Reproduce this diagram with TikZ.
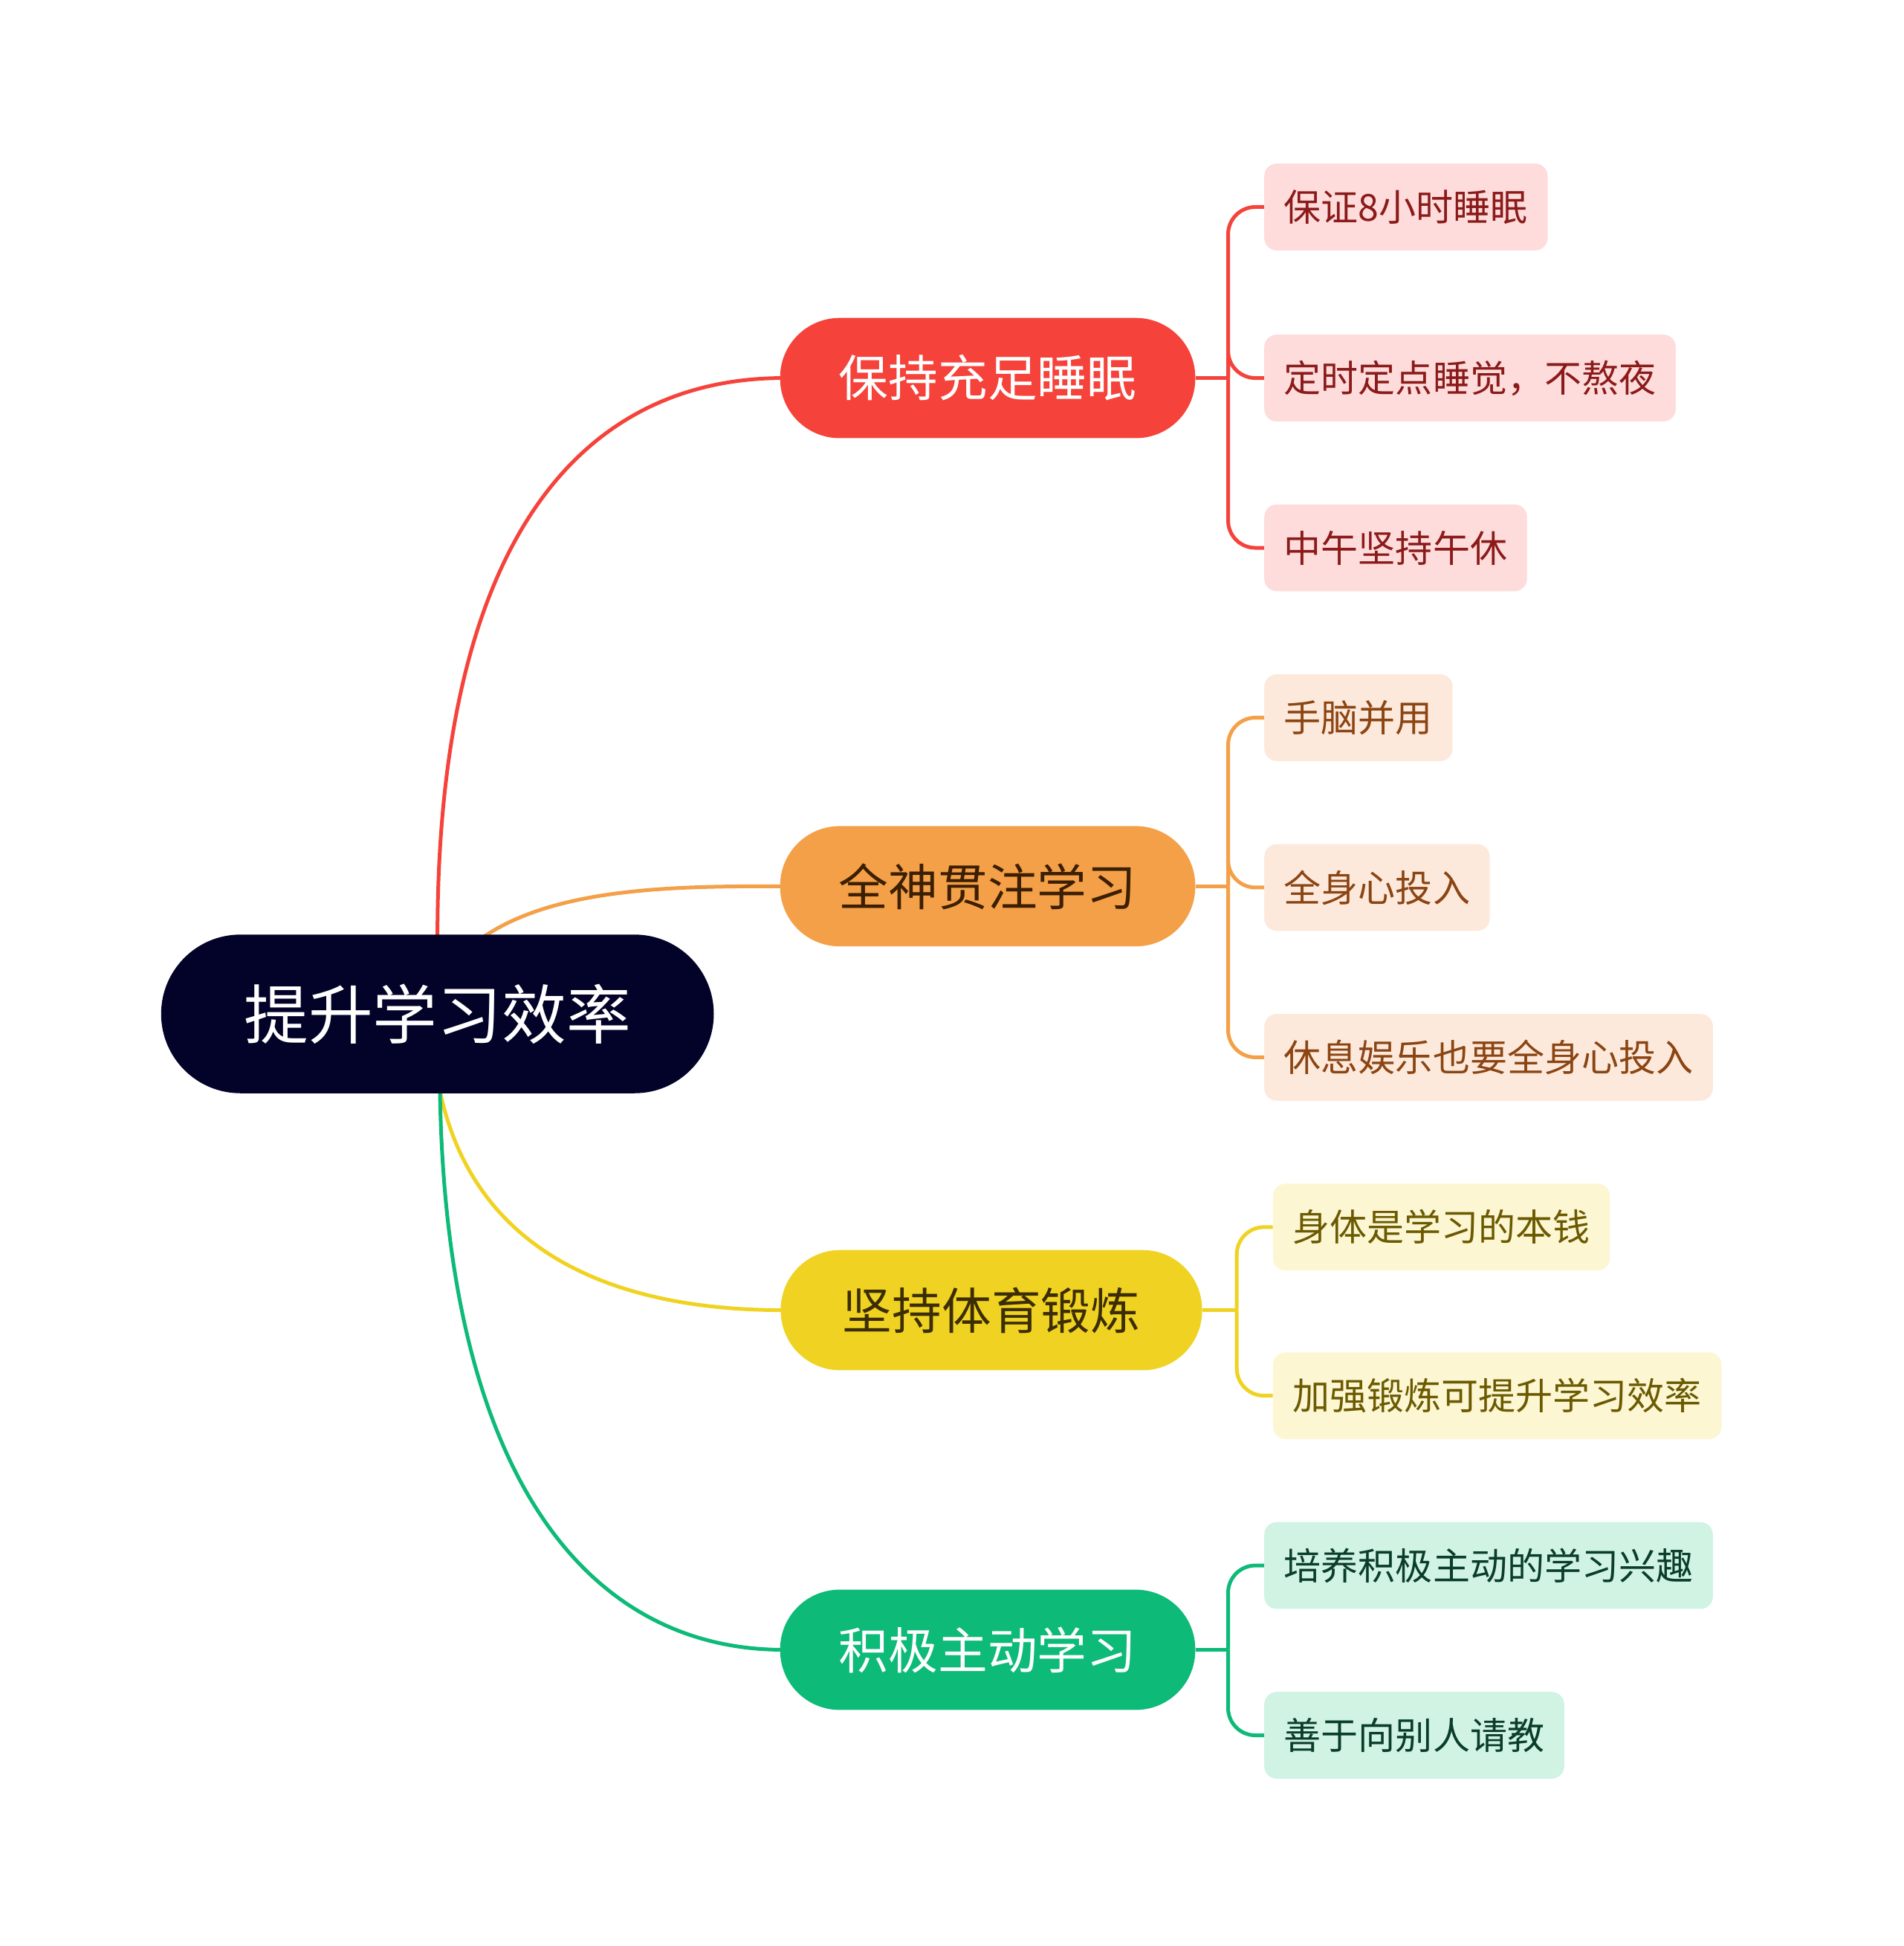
\documentclass[tikz,border=0pt]{standalone}
\usepackage{fontspec}
\newfontfamily\cjk{Noto Sans CJK SC}
\begin{document}
\begin{tikzpicture}[x=1pt,y=-1pt,
 mainbox/.style={rounded corners=48pt,minimum width=335pt,minimum height=97pt,inner sep=0pt,text=white,font=\cjk\fontsize{40}{44}\selectfont},
 leaf/.style={rounded corners=10pt,minimum height=70pt,inner xsep=16pt,anchor=west,font=\cjk\fontsize{30}{34}\selectfont},
 conn/.style={line width=3pt}]
\useasboundingbox (0,0) rectangle (1536,1570);
\definecolor{cR}{HTML}{F5433B}\definecolor{cO}{HTML}{F4A048}
\definecolor{cY}{HTML}{F0D322}\definecolor{cG}{HTML}{0DBA78}
\definecolor{lR}{HTML}{FDDCDB}\definecolor{lO}{HTML}{FDE9DC}
\definecolor{lY}{HTML}{FCF6D3}\definecolor{lG}{HTML}{D0F3E4}
\definecolor{tR}{HTML}{8B1A1A}\definecolor{tO}{HTML}{8B4513}
\definecolor{tY}{HTML}{6B5A00}\definecolor{tG}{HTML}{0A3D2A}
\coordinate (rt) at (353,756); \coordinate (ro) at (390,756);
\coordinate (rb) at (355,880);
\draw[conn,cR] (rt) .. controls (353,420) and (480,305) .. (632,305);
\draw[conn,cO] (ro) .. controls (450,715) and (550,715) .. (632,715);
\draw[conn,cY] (rb) .. controls (380,1000) and (480,1057) .. (632,1057);
\draw[conn,cG] (rb) .. controls (360,1200) and (480,1331) .. (632,1331);
\node[fill={rgb,255:red,3;green,3;blue,42},rounded corners=64pt,minimum width=446pt,minimum height=128pt,text=white,font=\cjk\fontsize{52}{56}\selectfont] (root) at (353,818) {提升学习效率};
\node[mainbox,fill=cR] (m1) at (797,305) {保持充足睡眠};
\node[mainbox,fill=cO,text={rgb,255:red,60;green,30;blue,0}] (m2) at (797,715) {全神贯注学习};
\node[mainbox,fill=cY,minimum width=340pt,text={rgb,255:red,60;green,45;blue,0}] (m3) at (800,1057) {坚持体育锻炼};
\node[mainbox,fill=cG] (m4) at (797,1331) {积极主动学习};
\node[leaf,fill=lR,text=tR] (a1) at (1020,167) {保证8小时睡眠};
\node[leaf,fill=lR,text=tR] (a2) at (1020,305) {定时定点睡觉，不熬夜};
\node[leaf,fill=lR,text=tR] (a3) at (1020,442) {中午坚持午休};
\node[leaf,fill=lO,text=tO] (b1) at (1020,579) {手脑并用};
\node[leaf,fill=lO,text=tO] (b2) at (1020,716) {全身心投入};
\node[leaf,fill=lO,text=tO] (b3) at (1020,853) {休息娱乐也要全身心投入};
\node[leaf,fill=lY,text=tY] (c1) at (1027,990) {身体是学习的本钱};
\node[leaf,fill=lY,text=tY] (c2) at (1027,1126) {加强锻炼可提升学习效率};
\node[leaf,fill=lG,text=tG] (d1) at (1020,1263) {培养积极主动的学习兴趣};
\node[leaf,fill=lG,text=tG] (d2) at (1020,1400) {善于向别人请教};
\coordinate (j1) at (991,305); \coordinate (j2) at (991,715);
\coordinate (j3) at (998,1057); \coordinate (j4) at (991,1331);
\foreach \m/\j/\c/\ls in {m1/j1/cR/{a1,a2,a3},m2/j2/cO/{b1,b2,b3},m3/j3/cY/{c1,c2},m4/j4/cG/{d1,d2}}{
 \draw[conn,\c] (\m.east) -- (\j);
 \foreach \l in \ls { \draw[conn,\c,rounded corners=22pt] (\j) |- (\l.west); }
}
\end{tikzpicture}
\end{document}
